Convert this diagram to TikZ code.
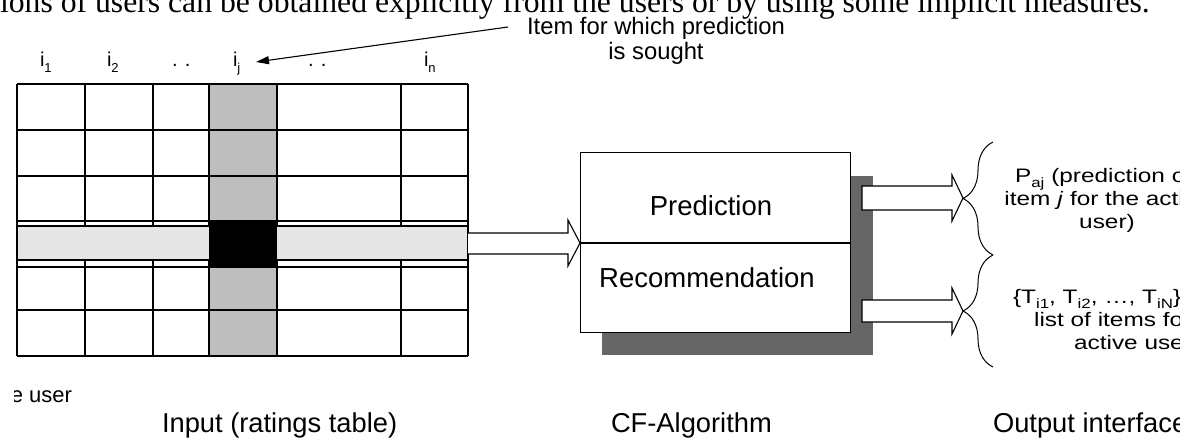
\documentclass[tikz,border=0pt]{standalone}
\usepackage{fontspec}
\setmainfont{Liberation Serif}
\newfontfamily\lsans{Liberation Sans}
\newfontfamily\lwide[FakeStretch=1.25]{Liberation Sans}
\usetikzlibrary{arrows.meta,decorations.pathreplacing}
\definecolor{colgray}{HTML}{BEBEBE}
\definecolor{bargray}{HTML}{E5E5E5}
\definecolor{shadowgray}{HTML}{666666}
\newcommand\isub[1]{\raisebox{-0.3em}{\fontsize{13}{13}\selectfont #1}}
\newcommand\osub[1]{\raisebox{-0.25em}{\fontsize{13.5}{13.5}\selectfont #1}}
\tikzset{
  txt/.style={inner sep=0pt, outer sep=0pt},
  serif/.style={txt, font=\fontsize{31.7}{34}\selectfont},
  lab/.style={txt, font=\lsans\fontsize{23.8}{25}\selectfont, align=center},
  collab/.style={txt, font=\lsans\fontsize{20}{20}\selectfont},
  boxtxt/.style={txt, font=\lsans\fontsize{27.5}{30}\selectfont},
  outtxt/.style={txt, font=\lwide\fontsize{19.5}{23}\selectfont, align=center},
  captxt/.style={txt, font=\lsans\fontsize{27.3}{30}\selectfont},
  userlab/.style={txt, font=\lsans\fontsize{22}{24}\selectfont},
  blockarrow/.style={draw, fill=white, line width=1.1pt, line join=miter},
  gridline/.style={line width=1.2pt},
  bracestyle/.style={decorate, decoration={brace, amplitude=30pt}, line width=1pt},
}
\begin{document}
\begin{tikzpicture}[x=1pt, y=-1pt]
\useasboundingbox (0,0) rectangle (1180,441);
\clip (0,0) rectangle (1180,441);

% cropped page text
\node[serif, anchor=base west] (toptext) at (0,13) {ions of users can be obtained explicitly from the users or by using some implicit measures.};

% pointer label
\node[lab, anchor=north] (itemlab) at (656,17) {Item for which prediction\\is sought};
\coordinate (lead) at (508,27);
\coordinate (tipj) at (256,62);
\draw[line width=1.1pt, -{Triangle[length=13pt,width=8pt]}] (lead) -- (tipj);

% column labels
\node[collab, anchor=base west] (c1) at (40,67) {i\isub{1}};
\node[collab, anchor=base west] (c2) at (107,67) {i\isub{2}};
\node[collab, anchor=base west] (d1) at (172,67) {. .};
\node[collab, anchor=base west] (cj) at (233,67) {i\isub{j}};
\node[collab, anchor=base west] (d2) at (308,67) {. .};
\node[collab, anchor=base west] (cn) at (424,67) {i\isub{n}};

% ratings table
\fill[colgray] (209,84) rectangle (277,356);
\foreach \yy in {84,130,176,221,267,310,356} \draw[gridline] (17,\yy) -- (468,\yy);
\foreach \xx in {17,85,153,209,277,401,468} \draw[gridline] (\xx,84) -- (\xx,356);
\filldraw[gridline, fill=bargray] (17,226) rectangle (468,260);
\fill[black] (209,221) rectangle (277,267);
\coordinate (gridout) at (468,243);

% CF box with shadow
\fill[shadowgray] (602,176) rectangle (873,355);
\node[draw, fill=white, line width=1.2pt, minimum width=270pt, minimum height=180pt, anchor=north west, inner sep=0pt] (cf) at (580,152) {};
\draw[line width=1.2pt] (580,243) -- (850,243);
\node[boxtxt, anchor=base] (pred) at (711,215) {Prediction};
\node[boxtxt, anchor=base] (rec) at (707,287) {Recommendation};

% input block arrow
\draw[blockarrow] (gridout |- 0,233) -- (568,233) -- (568,220) -- (cf.west |- 0,243) -- (568,266) -- (568,254) -- (gridout |- 0,254);

% output block arrows
\draw[blockarrow] (862,186) -- (952,186) -- (952,175) -- (963,198) -- (952,221) -- (952,210) -- (862,210) -- cycle;
\draw[blockarrow] (862,300) -- (952,300) -- (952,288) -- (963,311) -- (952,334) -- (952,322) -- (862,322) -- cycle;

% braces
\draw[bracestyle] (993,255) -- (993,142);
\draw[bracestyle] (993,367) -- (993,255);

% output texts
\node[outtxt, anchor=north] (pout) at (1107,168) {P\osub{aj} (prediction on\\item \textit{j} for the active\\user)};
\node[outtxt, anchor=north] (tout) at (1133,289) {\{T\osub{i1}, T\osub{i2}, \dots, T\osub{iN}\} Top-N\\list of items for the\\active user};

% captions
\begin{scope}
\clip (14,370) rectangle (200,415);
\node[userlab, anchor=base east] (active) at (72,402) {Active user};
\end{scope}
\node[captxt, anchor=base west] (incap) at (162,432) {Input (ratings table)};
\node[captxt, anchor=base west] (cfcap) at (611,432) {CF-Algorithm};
\node[captxt, anchor=base west] (outcap) at (993,432) {Output interface};
\end{tikzpicture}
\end{document}
